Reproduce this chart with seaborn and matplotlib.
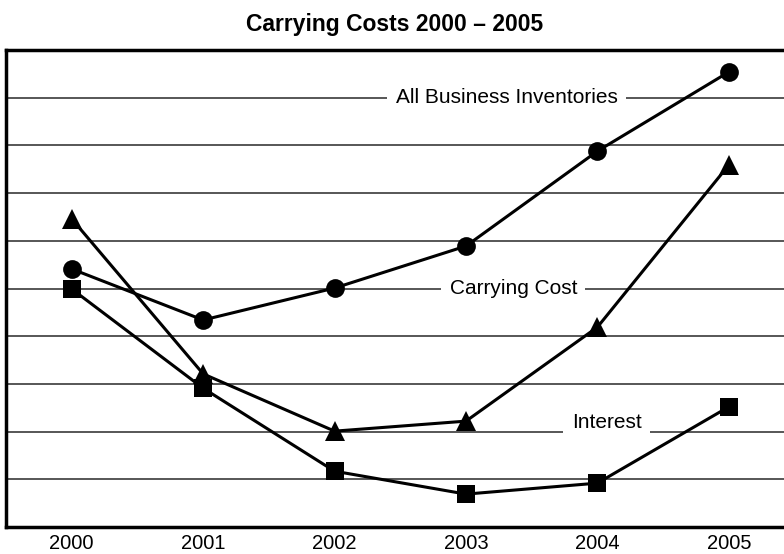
import pandas as pd
import matplotlib
matplotlib.use("Agg")
from matplotlib import pyplot as plt
import seaborn as sns

sns.set_style("white")
plt.rcParams['font.family'] = ['Liberation Sans', 'DejaVu Sans']
plt.rcParams['text.color'] = 'black'
plt.rcParams['xtick.color'] = 'black'

# Data (arbitrary units)
years = ["2000", "2001", "2002", "2003", "2004", "2005"]
inventories = [5.41, 4.34, 5.01, 5.89, 7.88, 9.54]
carrying_cost = [6.46, 3.21, 2.01, 2.22, 4.19, 7.59]
interest = [4.99, 2.91, 1.17, 0.69, 0.92, 2.52]

series = {
    "All Business Inventories": (inventories, "o", 13.5),
    "Carrying Cost": (carrying_cost, "^", 15),
    "Interest": (interest, "s", 13.5),
}

fig = plt.figure(figsize=(7.84, 5.54), dpi=100)
ax = fig.add_axes([0.0077, 0.0487, 0.9923, 0.861])

# gridlines first so the lines sit on top
for g in range(1, 10):
    ax.axhline(g, color='#3a3a3a', linewidth=1.2, zorder=1)

for name, (vals, marker, msize) in series.items():
    df = pd.DataFrame({"Year": years, "Value": vals})
    sns.lineplot(data=df, x="Year", y="Value", color="black", marker=marker,
                 markersize=msize, linewidth=2.2, markeredgewidth=0,
                 sort=False, ax=ax, zorder=3)

# Inline series labels with white boxes cutting the gridlines
box = dict(facecolor='white', edgecolor='none', pad=6)
ax.text(3.31, 9.0, "All Business Inventories", ha='center', va='center',
        fontsize=15, bbox=box, zorder=2)
ax.text(3.36, 5.0, "Carrying Cost", ha='center', va='center',
        fontsize=15, bbox=box, zorder=2)
ax.text(4.07, 2.2, "Interest", ha='center', va='center',
        fontsize=15, bbox=box, zorder=2)

ax.set_xlim(-0.5, 5.42)
ax.set_ylim(0, 10)
ax.set_yticks([])
ax.set_xlabel("")
ax.set_ylabel("")
ax.tick_params(axis='x', length=0, labelsize=14.5, pad=5)

for side in ['left', 'top', 'bottom']:
    ax.spines[side].set_linewidth(2.5)
    ax.spines[side].set_color('black')
ax.spines['right'].set_visible(False)

ax.set_title("Carrying Costs 2000 – 2005", fontsize=16.5, fontweight='bold', pad=14)

plt.savefig('out.png', dpi=100)
